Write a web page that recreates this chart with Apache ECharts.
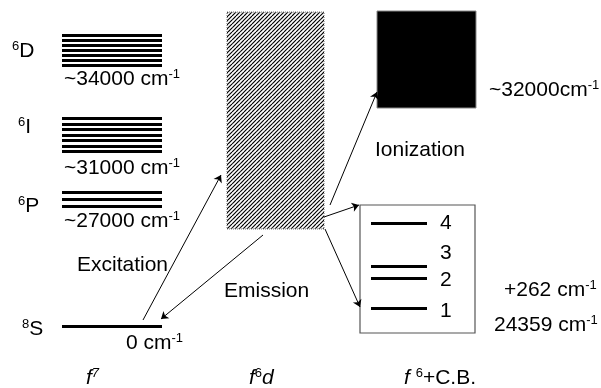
<!DOCTYPE html>
<html><head><meta charset="utf-8">
<script src="https://cdn.jsdelivr.net/npm/echarts@6/dist/echarts.min.js"></script>
<style>html,body{margin:0;padding:0;background:#fff}#c{width:601px;height:388px}</style>
</head><body><div id="c"></div>
<script>
// Schematic diagram units (x: column position, y: drawing height, inverted)
const termSpin = ['6', '6', '6', '8'];
const termLetter = ['D', 'I', 'P', 'S'];
const termEnergy = ['~34000 cm', '~31000 cm', '~27000 cm', '0 cm'];
const termLevels = [
  [35, 40, 45, 50, 55, 60, 65],
  [118.5, 124, 129.5, 135, 140.5, 146, 151.5],
  [192, 199, 206],
  [326]
];
const termNameY = [51, 127, 206, 329];
const termEnergyY = [79, 168, 221, 343];
const f7Span = [62, 162];

const cbLevelNames = ['1', '2', '3', '4'];
const cbLevels = [308, 278, 266, 223];
const cbLabelY = [311, 280, 253, 223];
const cbSpan = [371, 427];

const columnLabels = ['f7', 'f6d', 'f 6+C.B.'];
const processLabels = ['Excitation', 'Emission', 'Ionization'];

const dBand = [227, 324, 12, 229];      // f6d band (x0,x1,y0,y1)
const ionBand = [377, 476, 11, 108];    // ionization continuum
const cbBox = [360, 475, 205, 333];     // f6+C.B. box

const arrows = [
  [[143, 320], [221, 175]],   // excitation
  [[263, 235], [161, 319]],   // emission
  [[330, 205], [377, 92]],    // ionization
  [[324, 217], [359, 205]],   // to box top
  [[325, 229], [360, 307]]    // to box level 1
];

const FF = "'Liberation Sans', Arial, Helvetica, sans-serif";
const chart = echarts.init(document.getElementById('c'), null, {renderer: 'canvas'});

// hatch pattern
const pc = document.createElement('canvas');
pc.width = 8; pc.height = 8;
const g = pc.getContext('2d');
g.fillStyle = '#fff'; g.fillRect(0, 0, 8, 8);
g.strokeStyle = '#000'; g.lineWidth = 1.15;
for (let c = -8; c <= 12; c += 4) { g.beginPath(); g.moveTo(c, 8); g.lineTo(c + 8, 0); g.stroke(); }

const levelData = [];
termLevels.forEach(ls => ls.forEach(y => levelData.push({coords: [[f7Span[0], y], [f7Span[1], y]]})));
cbLevels.forEach(y => levelData.push({coords: [[cbSpan[0], y], [cbSpan[1], y]]}));

const rich = {
  n: {fontSize: 21, lineHeight: 23, fontFamily: FF, color: '#000'},
  s: {fontSize: 13, lineHeight: 13, verticalAlign: 'top', fontFamily: FF, color: '#000'},
  i: {fontSize: 21, lineHeight: 23, fontFamily: FF, fontStyle: 'italic', color: '#000'},
  si: {fontSize: 13, lineHeight: 13, verticalAlign: 'top', fontFamily: FF, fontStyle: 'italic', color: '#000'}
};

const texts = [];
termLetter.forEach((L, k) => {
  texts.push({t: '{s|' + termSpin[k] + '}{n|' + L + '}', x: 12 + (k === 1 || k === 2 ? 6 : 0) + (k === 3 ? 10 : 0), y: termNameY[k]});
  texts.push({t: '{n|' + termEnergy[k] + '}{s|-1}', x: k === 3 ? 126 : 64, y: termEnergyY[k]});
});
texts.push({t: '{n|' + processLabels[0] + '}', x: 77, y: 265});
texts.push({t: '{n|' + processLabels[1] + '}', x: 224, y: 291});
texts.push({t: '{n|' + processLabels[2] + '}', x: 375, y: 150});
texts.push({t: '{n|~32000cm}{s|-1}', x: 489, y: 90});
texts.push({t: '{n|+262 cm}{s|-1}', x: 504, y: 290});
texts.push({t: '{n|24359 cm}{s|-1}', x: 494, y: 325});
cbLevelNames.forEach((nm, k) => texts.push({t: '{n|' + nm + '}', x: 440, y: cbLabelY[k]}));
texts.push({t: '{i|f}{si|7}', x: 86, y: 378});
texts.push({t: '{i|f}{s|6}{i|d}', x: 249, y: 378});
texts.push({t: '{i|f }{s|6}{n|+C.B.}', x: 404, y: 378});

chart.setOption({
  animation: false,
  grid: {left: 0, right: 0, top: 0, bottom: 0},
  xAxis: {type: 'value', min: 0, max: 601, show: false},
  yAxis: {type: 'value', min: 0, max: 388, inverse: true, show: false},
  series: [
    {
      type: 'custom', coordinateSystem: 'cartesian2d', silent: true,
      data: [dBand, ionBand, cbBox],
      renderItem: function (params, api) {
        const b = [api.value(0), api.value(1), api.value(2), api.value(3)];
        const p0 = api.coord([b[0], b[2]]), p1 = api.coord([b[1], b[3]]);
        const shape = {x: p0[0], y: p0[1], width: p1[0] - p0[0], height: p1[1] - p0[1]};
        let style;
        if (params.dataIndex === 0) style = {fill: {type: 'pattern', image: pc, repeat: 'repeat'}, stroke: '#777', lineWidth: 1, lineDash: [1, 1]};
        else if (params.dataIndex === 1) style = {fill: '#000', stroke: '#888', lineWidth: 1};
        else style = {fill: 'none', stroke: '#555', lineWidth: 1.2};
        return {type: 'rect', shape: shape, style: style};
      }
    },
    {
      type: 'lines', coordinateSystem: 'cartesian2d', silent: true,
      symbol: 'none',
      lineStyle: {color: '#000', width: 3, opacity: 1, cap: 'butt'},
      data: levelData
    },
    {
      type: 'lines', coordinateSystem: 'cartesian2d', silent: true,
      symbol: ['none', 'arrow'], symbolSize: 7,
      lineStyle: {color: '#000', width: 1, opacity: 1},
      data: arrows.map(a => ({coords: a}))
    },
    {
      type: 'custom', coordinateSystem: 'cartesian2d', silent: true,
      data: texts.map(t => [t.x, t.y]),
      renderItem: function (params, api) {
        const p = api.coord([api.value(0), api.value(1)]);
        return {type: 'text', x: p[0], y: p[1], style: {text: texts[params.dataIndex].t, rich: rich, align: 'left', verticalAlign: 'middle'}};
      }
    }
  ]
});
</script></body></html>
